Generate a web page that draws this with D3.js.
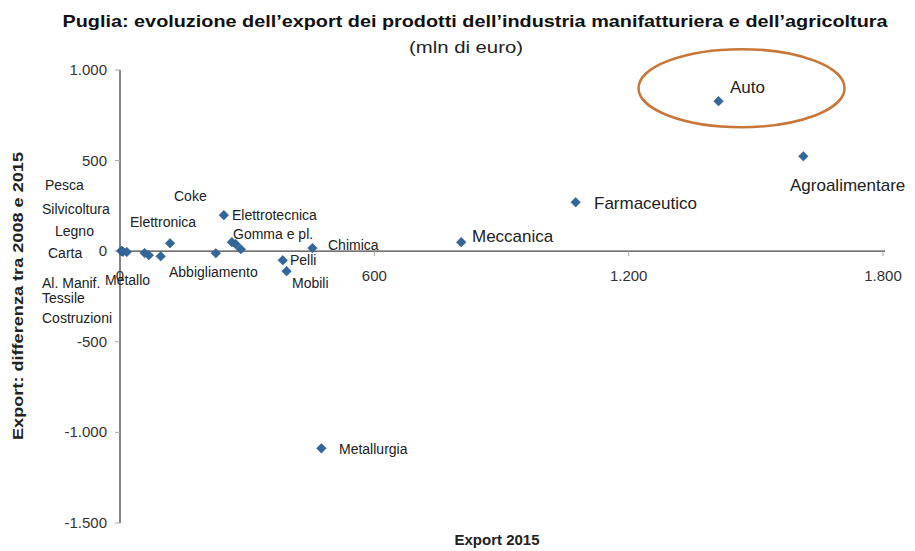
<!DOCTYPE html>
<html>
  <head>
    <meta charset="UTF-8">
    <title>Puglia: evoluzione dell'export</title>
    <style>
      body { margin: 0; background: #fff; }
      svg { font-family: "Liberation Sans", Arial, sans-serif; }
    </style>
  </head>
  <body>
    <svg class="chart"></svg>
    <script src="https://d3js.org/d3.v7.min.js"></script>
    <script>

/* DATA */
var sectors = ["Pesca", "Silvicoltura", "Costruzioni", "Carta", "Al. Manif.", "Metallo", "Tessile",
  "Elettronica", "Abbigliamento", "Elettrotecnica", "Gomma e pl.", "Coke", "Legno",
  "Pelli", "Mobili", "Chimica", "Metallurgia", "Meccanica", "Farmaceutico", "Auto", "Agroalimentare"];
var export2015 = [3, 5, 7, 16, 58, 68, 96, 118, 226, 245, 264, 273, 285, 384, 393, 454, 475, 805, 1075, 1412, 1612];
var diff0815 = [2, 0, -3, -4, -10, -22, -28, 44, -11, 199, 50, 39, 11, -50, -110, 17, -1088, 50, 270, 828, 524];
var xTicks = [0, 600, 1200, 1800];
var yTicks = [-1500, -1000, -500, 0, 500, 1000];

// label placement (text start x, baseline y) as in the original slide
var labelPos = {
  "Pesca":          { x: 45,  y: 190 },
  "Silvicoltura":   { x: 42,  y: 214 },
  "Legno":          { x: 55,  y: 236 },
  "Carta":          { x: 48,  y: 258 },
  "Al. Manif.":     { x: 42,  y: 288 },
  "Tessile":        { x: 42,  y: 303 },
  "Costruzioni":    { x: 42,  y: 323 },
  "Metallo":        { x: 105, y: 285 },
  "Coke":           { x: 174, y: 201 },
  "Elettronica":    { x: 130, y: 227 },
  "Elettrotecnica": { x: 232, y: 220 },
  "Gomma e pl.":    { x: 233, y: 239 },
  "Abbigliamento":  { x: 169, y: 277 },
  "Pelli":          { x: 290, y: 265 },
  "Mobili":         { x: 292, y: 288 },
  "Chimica":        { x: 328, y: 250 },
  "Metallurgia":    { x: 339, y: 454 },
  "Meccanica":      { x: 472, y: 242, big: true },
  "Farmaceutico":   { x: 594, y: 209, big: true },
  "Auto":           { x: 730, y: 93,  big: true },
  "Agroalimentare": { x: 790, y: 191, big: true }
};

var width = 915, height = 551;

var svg = d3.select("svg")
  .attr("width", width)
  .attr("height", height);

var x = d3.scaleLinear().domain([0, 1800]).range([120, 883]);
var y = d3.scaleLinear().domain([-1500, 1000]).range([523, 70]);

// italian style: dot as thousands separator, plain hyphen for minus
var fmt = function(v) { return d3.format(",")(v).replace(/,/g, ".").replace("\u2212", "-"); };

// title
svg.append("text")
  .attr("x", 475).attr("y", 27)
  .attr("text-anchor", "middle")
  .attr("font-weight", "bold")
  .attr("font-size", "17px")
  .attr("textLength", 825)
  .attr("lengthAdjust", "spacingAndGlyphs")
  .attr("fill", "#111")
  .text("Puglia: evoluzione dell\u2019export dei prodotti dell\u2019industria manifatturiera e dell\u2019agricoltura");

svg.append("text")
  .attr("x", 466).attr("y", 53)
  .attr("text-anchor", "middle")
  .attr("font-size", "16px")
  .attr("textLength", 114)
  .attr("lengthAdjust", "spacingAndGlyphs")
  .attr("fill", "#222")
  .text("(mln di euro)");

// axes lines
svg.append("line")
  .attr("x1", x(0)).attr("x2", x(1800) + 2)
  .attr("y1", y(0)).attr("y2", y(0))
  .attr("stroke", "#444").attr("stroke-width", 1.3);

svg.append("line")
  .attr("x1", x(0)).attr("x2", x(0))
  .attr("y1", y(1000)).attr("y2", y(-1500))
  .attr("stroke", "#444").attr("stroke-width", 1.3);

// y ticks
svg.selectAll(".ytick")
  .data(yTicks)
  .enter().append("line")
    .attr("x1", x(0) - 5).attr("x2", x(0))
    .attr("y1", function(d) { return y(d); })
    .attr("y2", function(d) { return y(d); })
    .attr("stroke", "#aaa");

svg.selectAll(".ylab")
  .data(yTicks)
  .enter().append("text")
    .attr("x", 107)
    .attr("y", function(d) { return y(d) + 5; })
    .attr("text-anchor", "end")
    .attr("font-size", "15px")
    .attr("fill", "#333")
    .text(fmt);

// x ticks
svg.selectAll(".xtick")
  .data(xTicks.slice(1))
  .enter().append("line")
    .attr("x1", function(d) { return x(d); })
    .attr("x2", function(d) { return x(d); })
    .attr("y1", y(0)).attr("y2", y(0) + 5)
    .attr("stroke", "#aaa");

svg.selectAll(".xlab")
  .data(xTicks)
  .enter().append("text")
    .attr("x", function(d) { return x(d); })
    .attr("y", y(0) + 30)
    .attr("text-anchor", "middle")
    .attr("font-size", "15px")
    .attr("fill", "#333")
    .text(fmt);

// axis titles
svg.append("text")
  .attr("transform", "translate(23," + 296 + ") rotate(-90)")
  .attr("text-anchor", "middle")
  .attr("font-weight", "bold")
  .attr("font-size", "15px")
  .attr("textLength", 288)
  .attr("lengthAdjust", "spacingAndGlyphs")
  .attr("fill", "#222")
  .text("Export: differenza tra 2008 e 2015");

svg.append("text")
  .attr("x", 497).attr("y", 545)
  .attr("text-anchor", "middle")
  .attr("font-weight", "bold")
  .attr("font-size", "15px")
  .attr("fill", "#222")
  .text("Export 2015");

// points
var points = sectors.map(function(s, i) {
  return { name: s, x: export2015[i], y: diff0815[i] };
});

svg.append("g")
  .selectAll("path")
  .data(points)
  .enter().append("path")
    .attr("d", d3.symbol().type(d3.symbolSquare).size(46))
    .attr("transform", function(d) {
      return "translate(" + x(d.x) + "," + y(d.y) + ") rotate(45)";
    })
    .attr("fill", "#336699")
    .attr("stroke", "#2b5a86")
    .attr("stroke-width", 0.5);

// labels
svg.append("g")
  .selectAll("text")
  .data(points)
  .enter().append("text")
    .attr("x", function(d) { return labelPos[d.name].x; })
    .attr("y", function(d) { return labelPos[d.name].y; })
    .attr("font-size", function(d) { return labelPos[d.name].big ? "17px" : "14px"; })
    .attr("fill", "#222")
    .text(function(d) { return d.name; });

// highlight around Auto
var auto = points.filter(function(d) { return d.name == "Auto"; })[0];
svg.append("ellipse")
  .attr("cx", x(auto.x) + 23)
  .attr("cy", y(auto.y) - 13)
  .attr("rx", 103)
  .attr("ry", 39)
  .attr("fill", "none")
  .attr("stroke", "#c8763a")
  .attr("stroke-width", 2.5);

</script>
  </body>
</html>
